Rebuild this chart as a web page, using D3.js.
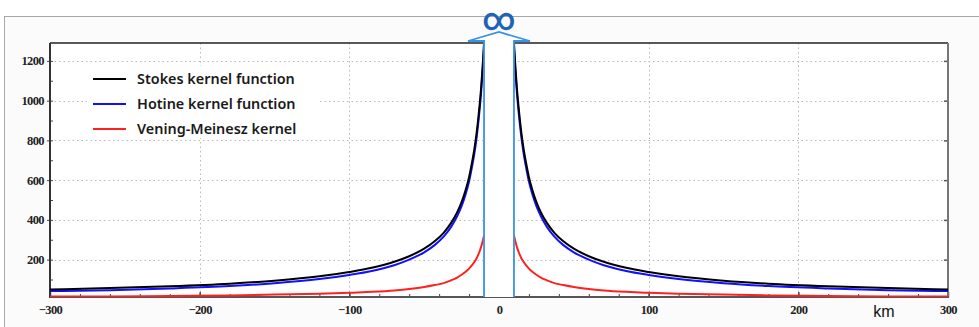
<!DOCTYPE html>
<html><head><meta charset="utf-8">
<script src="https://cdn.jsdelivr.net/npm/d3@7"></script>
<style>html,body{margin:0;padding:0;background:#fff;}svg{display:block;}</style>
</head><body>
<script>
// distances (km) from computation point, both sides
const kmLeft  = [-300,-260,-220,-180,-150,-120,-100,-85,-70,-60,-50,-43,-37,-32,-28,-25,-22.5,-20,-18,-16.5,-15,-14,-13,-12,-11,-10];
const kmRight = [10,11,12,13,14,15,16.5,18,20,22.5,25,28,32,37,43,50,60,70,85,100,120,150,180,220,260,300];
const stokesLeft  = [50,57,66,79,94,116,138,159,189,217,255,292,335,385,438,490,545,615,690,755,835,900,975,1060,1165,1290];
const stokesRight = [1290,1165,1060,975,900,835,755,690,615,545,490,438,385,335,292,255,217,189,159,138,116,94,79,66,57,50];
const hotineLeft  = [42,46,55,67,81,102,123,143,172,200,237,273,316,365,418,469,524,593,668,732,812,877,951,1036,1141,1265];
const hotineRight = [1265,1141,1036,951,877,812,732,668,593,524,469,418,365,316,273,237,200,172,143,123,102,81,67,55,46,42];
const vmLeft  = [14,15,17,20,24,28,33,38,45,52,62,72,82,96,110,124,138,155,172,188,206,223,241,263,290,321];
const vmRight = [321,290,263,241,223,206,188,172,155,138,124,110,96,82,72,62,52,45,38,33,28,24,20,17,15,14];
const seriesNames = ["Stokes kernel function","Hotine kernel function","Vening-Meinesz kernel"];
const seriesColors = ["#000000","#1010ff","#ff2020"];
const yTicks = [200,400,600,800,1000,1200];
const xTicks = [-300,-200,-100,0,100,200,300];
const gapKm = [-10,10];
const xUnit = "km";
const infinityLabel = "\u221E";

const W = 979, H = 327;
const svg = d3.select("body").append("svg").attr("width", W).attr("height", H);

// outer frame
svg.append("rect").attr("x",4).attr("y",16).attr("width",W-4).attr("height",H-16).attr("fill","#fbfbfb");
svg.append("line").attr("x1",4).attr("x2",W).attr("y1",16.5).attr("y2",16.5).attr("stroke","#a8a8a8").attr("stroke-width",1);
svg.append("line").attr("x1",4.5).attr("x2",4.5).attr("y1",16).attr("y2",H).attr("stroke","#a8a8a8").attr("stroke-width",1);

const L = 50, R = 948, T = 43, B = 297;
const x = d3.scaleLinear().domain([-300,300]).range([L,R]);
const y = d3.scaleLinear().domain([12,1290]).range([B,T]);

svg.append("rect").attr("x",L).attr("y",T).attr("width",R-L).attr("height",B-T).attr("fill","#fff");

// grid
const grid = svg.append("g").attr("stroke","#b8b8b8").attr("stroke-width",1).attr("stroke-dasharray","1.5,3");
yTicks.forEach(v => grid.append("line").attr("x1",L).attr("x2",R).attr("y1",Math.round(y(v))+0.5).attr("y2",Math.round(y(v))+0.5));
xTicks.filter(v => v>-300 && v<300).forEach(v => grid.append("line").attr("x1",Math.round(x(v))+0.5).attr("x2",Math.round(x(v))+0.5).attr("y1",T).attr("y2",B));

// axes
const xAxis = d3.axisBottom(x).tickValues(d3.range(-300,301,20)).tickSize(-3).tickFormat("");
const gx = svg.append("g").attr("transform",`translate(0,${B})`).call(xAxis);
gx.select(".domain").remove();
gx.selectAll(".tick line").attr("stroke","#444");
const xAxisMajor = d3.axisBottom(x).tickValues(xTicks).tickSize(-5).tickPadding(6).tickFormat(d3.format("d"));
const gxm = svg.append("g").attr("transform",`translate(0,${B})`).call(xAxisMajor);
gxm.select(".domain").remove();
gxm.selectAll(".tick line").attr("stroke","#444").attr("stroke-width",1.5);
gxm.selectAll(".tick text").attr("font-family","Liberation Serif").attr("font-size",12.5).attr("font-weight","bold").attr("fill","#222").attr("dy","0.85em").attr("letter-spacing","-0.6");

const yAxis = d3.axisLeft(y).tickValues(d3.range(100,1300,100)).tickSize(-3).tickFormat("");
const gy = svg.append("g").attr("transform",`translate(${L},0)`).call(yAxis);
gy.select(".domain").remove();
gy.selectAll(".tick line").attr("stroke","#444");
const yAxisMajor = d3.axisLeft(y).tickValues(yTicks).tickSize(3).tickPadding(3).tickFormat(d3.format("d"));
const gym = svg.append("g").attr("transform",`translate(${L},0)`).call(yAxisMajor);
gym.select(".domain").remove();
gym.selectAll(".tick line").attr("stroke","#444");
gym.selectAll(".tick text").attr("font-family","Liberation Serif").attr("font-size",12.5).attr("font-weight","bold").attr("fill","#222").attr("letter-spacing","-0.6");

const yAxisRight = d3.axisRight(y).tickValues(yTicks).tickSize(-4).tickFormat("");
const gyr = svg.append("g").attr("transform",`translate(${R},0)`).call(yAxisRight);
gyr.select(".domain").remove();
gyr.selectAll(".tick line").attr("stroke","#555").attr("stroke-width",1.5);

// frame lines
svg.append("line").attr("x1",L).attr("x2",R).attr("y1",T).attr("y2",T).attr("stroke","#222").attr("stroke-width",1.5);
svg.append("line").attr("x1",R).attr("x2",R).attr("y1",T).attr("y2",B).attr("stroke","#777").attr("stroke-width",2);
svg.append("line").attr("x1",L).attr("x2",L).attr("y1",T).attr("y2",B+1).attr("stroke","#333").attr("stroke-width",2);
svg.append("line").attr("x1",L).attr("x2",R+1).attr("y1",B).attr("y2",B).attr("stroke","#555").attr("stroke-width",2);

svg.append("text").attr("x",884).attr("y",317).attr("text-anchor","middle").attr("font-family","Liberation Sans").attr("font-size",16).attr("fill","#111").text(xUnit);

// curves
svg.append("clipPath").attr("id","clip").append("rect").attr("x",L).attr("y",T).attr("width",R-L).attr("height",B-T);
const line = d3.line().x(d => x(d[0])).y(d => y(d[1])).curve(d3.curveMonotoneX);
const sets = [
  [kmLeft, stokesLeft, kmRight, stokesRight],
  [kmLeft, hotineLeft, kmRight, hotineRight],
  [kmLeft, vmLeft, kmRight, vmRight]
];
const cg = svg.append("g").attr("clip-path","url(#clip)");
[2,1,0].forEach(i => {
  const s = sets[i];
  cg.append("path").datum(d3.zip(s[0], s[1])).attr("d", line).attr("fill","none").attr("stroke",seriesColors[i]).attr("stroke-width",2);
  cg.append("path").datum(d3.zip(s[2], s[3])).attr("d", line).attr("fill","none").attr("stroke",seriesColors[i]).attr("stroke-width",2);
});

// legend
const lg = svg.append("g");
lg.append("rect").attr("x",87).attr("y",66).attr("width",230).attr("height",72).attr("fill","#fff");
seriesNames.forEach((n,i) => {
  const yy = 79 + i*25;
  lg.append("line").attr("x1",93).attr("x2",126).attr("y1",yy).attr("y2",yy).attr("stroke",seriesColors[i]).attr("stroke-width",1.8);
  lg.append("text").attr("x",137).attr("y",yy+5).attr("font-family","Noto Sans").attr("font-size",14.4).attr("font-weight",600).attr("fill","#1a1a1a").text(n);
});

// arrow (infinite value at center)
const xl = x(gapKm[0]), xr = x(gapKm[1]), xc = x(0);
const ab = 41, atip = 32, aw = 16;
const arrow = d3.path();
arrow.moveTo(xl, B);
arrow.lineTo(xl, ab);
arrow.lineTo(xl-aw, ab);
arrow.lineTo(xc, atip);
arrow.lineTo(xr+aw, ab);
arrow.lineTo(xr, ab);
arrow.lineTo(xr, B);
svg.append("path").attr("d", arrow.toString()).attr("fill","#fff").attr("stroke","#3a92e6").attr("stroke-width",1.8).attr("stroke-linejoin","miter");

svg.append("text").attr("x",xc).attr("y",30).attr("text-anchor","middle").attr("font-family","Roboto").attr("font-weight",500).attr("font-size",32).attr("fill","#1f63b5").text(infinityLabel);
</script>
</body></html>
